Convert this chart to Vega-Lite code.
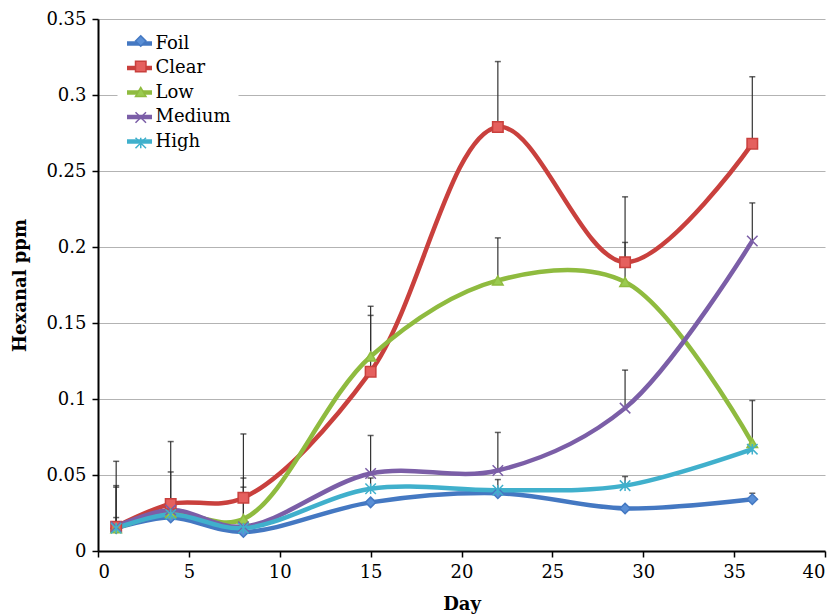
{
  "$schema": "https://vega.github.io/schema/vega-lite/v6.json",
  "width": 727,
  "height": 532,
  "autosize": {"type": "none"},
  "padding": {"left": 98, "top": 19, "right": 11, "bottom": 64},
  "background": "white",
  "config": {
    "view": {"stroke": null},
    "font": "DejaVu Serif",
    "axis": {"labelFont": "DejaVu Serif", "titleFont": "DejaVu Serif", "labelFontSize": 18, "titleFontSize": 18, "labelColor": "black", "titleColor": "black", "domainColor": "black", "domainWidth": 2, "tickColor": "black", "tickWidth": 1.5, "tickSize": 6}
  },
  "resolve": {"scale": {"color": "independent"}, "legend": {"color": "independent"}},
  "datasets": {
    "pts": [
      {"day": 1, "s": "Foil", "v": 0.015}, {"day": 4, "s": "Foil", "v": 0.022}, {"day": 8, "s": "Foil", "v": 0.0125}, {"day": 15, "s": "Foil", "v": 0.032}, {"day": 22, "s": "Foil", "v": 0.038}, {"day": 29, "s": "Foil", "v": 0.028}, {"day": 36, "s": "Foil", "v": 0.034},
      {"day": 1, "s": "Clear", "v": 0.016}, {"day": 4, "s": "Clear", "v": 0.031}, {"day": 8, "s": "Clear", "v": 0.035}, {"day": 15, "s": "Clear", "v": 0.118}, {"day": 22, "s": "Clear", "v": 0.279}, {"day": 29, "s": "Clear", "v": 0.19}, {"day": 36, "s": "Clear", "v": 0.268},
      {"day": 1, "s": "Low", "v": 0.015}, {"day": 4, "s": "Low", "v": 0.025}, {"day": 8, "s": "Low", "v": 0.021}, {"day": 15, "s": "Low", "v": 0.128}, {"day": 22, "s": "Low", "v": 0.178}, {"day": 29, "s": "Low", "v": 0.177}, {"day": 36, "s": "Low", "v": 0.071},
      {"day": 1, "s": "Medium", "v": 0.016}, {"day": 4, "s": "Medium", "v": 0.027}, {"day": 8, "s": "Medium", "v": 0.016}, {"day": 15, "s": "Medium", "v": 0.051}, {"day": 22, "s": "Medium", "v": 0.053}, {"day": 29, "s": "Medium", "v": 0.094}, {"day": 36, "s": "Medium", "v": 0.204},
      {"day": 1, "s": "High", "v": 0.015}, {"day": 4, "s": "High", "v": 0.024}, {"day": 8, "s": "High", "v": 0.015}, {"day": 15, "s": "High", "v": 0.041}, {"day": 22, "s": "High", "v": 0.04}, {"day": 29, "s": "High", "v": 0.043}, {"day": 36, "s": "High", "v": 0.067}
    ],
    "err": [
      {"day": 1, "lo": 0.016, "hi": 0.059}, {"day": 1, "lo": 0.015, "hi": 0.043}, {"day": 1, "lo": 0.016, "hi": 0.042}, {"day": 1, "lo": 0.015, "hi": 0.022},
      {"day": 4, "lo": 0.031, "hi": 0.072}, {"day": 4, "lo": 0.027, "hi": 0.052},
      {"day": 8, "lo": 0.035, "hi": 0.077}, {"day": 8, "lo": 0.021, "hi": 0.048}, {"day": 8, "lo": 0.016, "hi": 0.042},
      {"day": 15, "lo": 0.128, "hi": 0.161}, {"day": 15, "lo": 0.118, "hi": 0.155}, {"day": 15, "lo": 0.051, "hi": 0.076}, {"day": 15, "lo": 0.041, "hi": 0.048},
      {"day": 22, "lo": 0.279, "hi": 0.322}, {"day": 22, "lo": 0.178, "hi": 0.206}, {"day": 22, "lo": 0.053, "hi": 0.078}, {"day": 22, "lo": 0.04, "hi": 0.047},
      {"day": 29, "lo": 0.19, "hi": 0.233}, {"day": 29, "lo": 0.177, "hi": 0.203}, {"day": 29, "lo": 0.094, "hi": 0.119}, {"day": 29, "lo": 0.043, "hi": 0.049},
      {"day": 36, "lo": 0.268, "hi": 0.312}, {"day": 36, "lo": 0.204, "hi": 0.229}, {"day": 36, "lo": 0.071, "hi": 0.099}, {"day": 36, "lo": 0.034, "hi": 0.038}
    ]
  },
  "layer": [
    {
      "data": {"name": "err"},
      "mark": {"type": "rule", "color": "#333333", "strokeWidth": 1.2},
      "encoding": {
        "x": {"field": "day", "type": "quantitative", "scale": {"domain": [0, 40]}},
        "y": {"field": "lo", "type": "quantitative", "scale": {"domain": [0, 0.35]}},
        "y2": {"field": "hi"}
      }
    },
    {
      "data": {"name": "err"},
      "mark": {"type": "tick", "orient": "horizontal", "color": "#222222", "size": 6, "thickness": 1.5},
      "encoding": {
        "x": {"field": "day", "type": "quantitative"},
        "y": {"field": "hi", "type": "quantitative"}
      }
    },
    {
      "data": {"name": "pts"},
      "mark": {"type": "line", "interpolate": "catmull-rom", "strokeWidth": 4.5},
      "encoding": {
        "x": {"field": "day", "type": "quantitative", "title": "Day", "scale": {"domain": [0, 40]},
          "axis": {"values": [0, 5, 10, 15, 20, 25, 30, 35, 40], "grid": false, "titleFontWeight": "bold", "titlePadding": 14, "labelPadding": 6}},
        "y": {"field": "v", "type": "quantitative", "title": "Hexanal ppm", "scale": {"domain": [0, 0.35]},
          "axis": {"values": [0, 0.05, 0.1, 0.15, 0.2, 0.25, 0.3, 0.35], "format": "~g", "grid": true, "gridColor": "#b3b3b3", "gridWidth": 1.2, "titleFontWeight": "bold", "titlePadding": 16, "labelPadding": 6}},
        "color": {"field": "s", "type": "nominal", "title": null,
          "scale": {"domain": ["Foil", "Clear", "Low", "Medium", "High"], "range": ["#4478c2", "#c9403d", "#8fbb3f", "#7b5ea7", "#40b0cc"]},
          "legend": {"orient": "none", "legendX": 19.5, "legendY": 2.5, "zindex": 1, "symbolType": "stroke", "symbolSize": 625, "symbolStrokeWidth": 4.5, "labelFontSize": 18, "labelFont": "DejaVu Serif", "labelColor": "black", "rowPadding": 0.5, "fillColor": "white", "padding": 7, "labelOffset": 1}},
        "detail": {"field": "s"}
      }
    },
    {
      "data": {"name": "pts"},
      "mark": {"type": "point", "size": 110, "strokeWidth": 1.5, "opacity": 1},
      "encoding": {
        "x": {"field": "day", "type": "quantitative"},
        "y": {"field": "v", "type": "quantitative"},
        "fill": {"field": "s", "type": "nominal", "title": null,
          "scale": {"domain": ["Foil", "Clear", "Low", "Medium", "High"], "range": ["#5a8fd6", "#e5605e", "#9acb50", "#8a6cb4", "#5bc2dc"]},
          "legend": {"orient": "none", "legendX": 29.75, "legendY": 9, "zindex": 2, "symbolSize": 110, "symbolStrokeWidth": 1.5, "labelFontSize": 18, "labelExpr": "''", "labelFont": "DejaVu Serif", "rowPadding": 7.5, "padding": 4, "labelOffset": 12.75}},
        "stroke": {"field": "s", "type": "nominal", "title": null,
          "scale": {"domain": ["Foil", "Clear", "Low", "Medium", "High"], "range": ["#4478c2", "#c9403d", "#8fbb3f", "#7b5ea7", "#40b0cc"]}},
        "shape": {"field": "s", "type": "nominal", "title": null,
          "scale": {"domain": ["Foil", "Clear", "Low", "Medium", "High"], "range": ["diamond", "square", "triangle-up", "M-1,-1L1,1M-1,1L1,-1", "M-1,-1L1,1M-1,1L1,-1M0,-1L0,1"]}}
      }
    }
  ]
}
